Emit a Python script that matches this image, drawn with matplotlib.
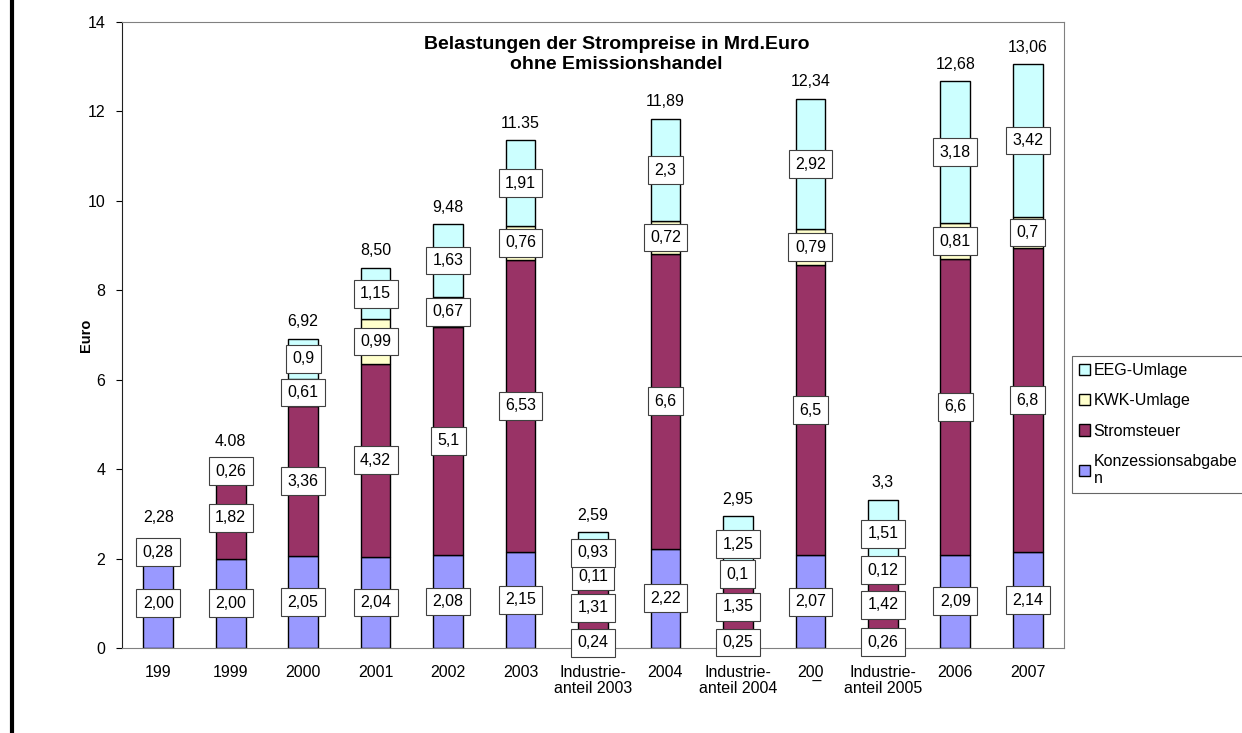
import numpy as np
import matplotlib
matplotlib.use("Agg")
import matplotlib.pyplot as plt
from matplotlib.lines import Line2D

plt.rcParams['font.family'] = ['Liberation Sans', 'DejaVu Sans']

categories = ["199", "1999", "2000", "2001", "2002", "2003",
              "Industrie-\nanteil 2003", "2004", "Industrie-\nanteil 2004",
              "200\n   \u00af", "Industrie-\nanteil 2005", "2006", "2007"]

konzession = [2.00, 2.00, 2.05, 2.04, 2.08, 2.15, 0.24, 2.22, 0.25, 2.07, 0.26, 2.09, 2.14]
stromsteuer = [0, 1.82, 3.36, 4.32, 5.1, 6.53, 1.31, 6.6, 1.35, 6.5, 1.42, 6.6, 6.8]
kwk = [0.28, 0.26, 0.61, 0.99, 0.67, 0.76, 0.11, 0.72, 0.1, 0.79, 0.12, 0.81, 0.7]
eeg = [0, 0, 0.9, 1.15, 1.63, 1.91, 0.93, 2.3, 1.25, 2.92, 1.51, 3.18, 3.42]

total_labels = ["2,28", "4.08", "6,92", "8,50", "9,48", "11.35", "2,59",
                "11,89", "2,95", "12,34", "3,3", "12,68", "13,06"]

series = [
    ("Konzessionsabgabe\nn", konzession, "#9999FF", "{:.2f}"),
    ("Stromsteuer", stromsteuer, "#993366", "{:g}"),
    ("KWK-Umlage", kwk, "#FFFFCC", "{:g}"),
    ("EEG-Umlage", eeg, "#CCFFFF", "{:g}"),
]

fs = 11.5

fig = plt.figure(figsize=(12.42, 7.33), dpi=100)
ax = fig.add_axes([122/1242, 85/733, 942/1242, 626/733])

x = np.arange(len(categories))
bottom = np.zeros(len(categories))
handles = []
for name, vals, col, fmt in series:
    vals = np.array(vals, dtype=float)
    bars = ax.bar(x, vals, 0.41, bottom=bottom, color=col, edgecolor='black',
                  linewidth=1.0, label=name)
    handles.append(bars)
    for xi, v, b in zip(x, vals, bottom):
        if v <= 0:
            continue
        txt = fmt.format(v).replace('.', ',')
        ax.text(xi, b + v / 2, txt, ha='center', va='center', fontsize=fs,
                bbox=dict(boxstyle='square,pad=0.4', fc='white', ec='#404040', lw=0.8),
                zorder=5)
    bottom = bottom + vals

# totals above the bars
for i, (xi, tot) in enumerate(zip(x, bottom)):
    lift = 29 if i == 0 else (24 if i == 1 else 17)
    ax.annotate(total_labels[i], (xi, tot), xytext=(0, lift * 0.72),
                textcoords='offset points', ha='center', va='center', fontsize=fs)

ax.set_xlim(-0.5, len(categories) - 0.5)
ax.set_ylim(0, 14)
ax.set_yticks(range(0, 15, 2))
ax.set_xticks(x)
ax.set_xticklabels(categories, fontsize=fs, va='top', linespacing=1.1)
ax.tick_params(axis='x', length=0, pad=12)
ax.tick_params(axis='y', length=4, direction='out', labelsize=fs, pad=8)
ax.set_ylabel("Euro", fontweight='bold', fontsize=10.5, labelpad=-4)

for s in ['top', 'right', 'bottom']:
    ax.spines[s].set_color('#808080')
ax.spines['left'].set_color('#202020')

ax.text(0.525, 0.948, "Belastungen der Strompreise in Mrd.Euro\nohne Emissionshandel",
        transform=ax.transAxes, ha='center', va='center', fontsize=14,
        fontweight='bold', linespacing=1.2)

leg = fig.legend(handles[::-1], [h.get_label() for h in handles[::-1]],
                 loc='upper left', bbox_to_anchor=(1072/1242, 1 - 356/733),
                 bbox_transform=fig.transFigure, borderaxespad=0, fontsize=fs,
                 handlelength=0.7, handleheight=0.7, handletextpad=0.2,
                 labelspacing=0.95, fancybox=False, frameon=True,
                 borderpad=0.45)
leg.get_frame().set_edgecolor('#404040')
leg.get_frame().set_linewidth(0.8)

# black border at the left edge of the picture
fig.add_artist(Line2D([11.5/1242, 11.5/1242], [0, 1], color='black', lw=3))

fig.savefig("out.png", dpi=100)
